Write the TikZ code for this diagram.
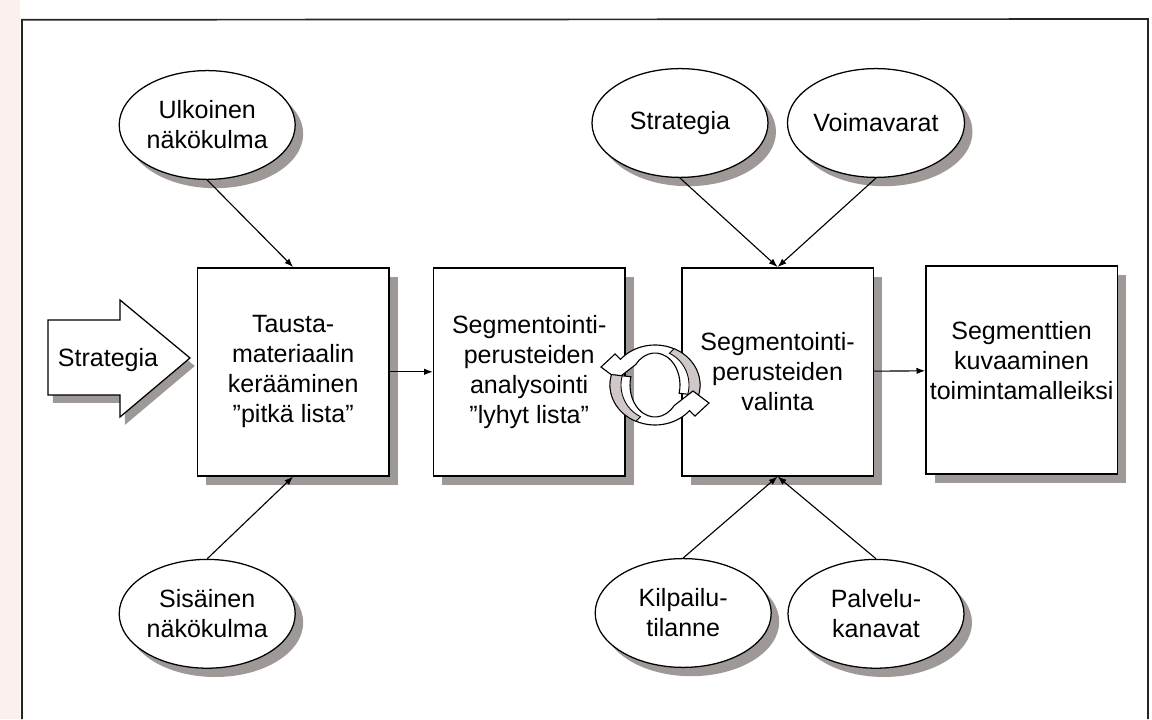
\documentclass[tikz,border=0pt]{standalone}
\usepackage{fontspec}
\setmainfont{Liberation Sans}
\usepackage{tikz}
\usetikzlibrary{arrows.meta,positioning,shapes,shadows,calc}
\definecolor{shadowgray}{RGB}{158,152,150}
\definecolor{ringgray}{RGB}{208,200,198}
\definecolor{scanpink}{RGB}{250,240,237}

\begin{document}
\begin{tikzpicture}[
    stage/.style={draw,line width=1pt,fill=white,drop shadow={shadow xshift=0.22cm,shadow yshift=-0.22cm,fill=shadowgray,opacity=1},font=\fontsize{17.8}{21.3}\selectfont, align=center, minimum width=4.78cm, minimum height=5.2cm, inner sep=0pt},
    factor/.style={draw,ellipse,line width=0.9pt,fill=white,drop shadow={shadow xshift=0.2cm,shadow yshift=-0.22cm,fill=shadowgray,opacity=1},font=\fontsize{17.8}{21.3}\selectfont, align=center, minimum width=4.4cm, minimum height=2.72cm, inner sep=0pt},
    link/.style={line width=0.8pt,-{Latex[length=2.2mm,width=1.6mm]}}
    ]
    %cadre
\useasboundingbox (0,0) rectangle (28.8,17.975);
\fill[scanpink] (0,0) rectangle (0.5,17.975);
\draw[line width=1.2pt,black!85] (0.55,0) -- (0.55,17.48) -- (28.7,17.5) -- (28.7,0);

    %strategia (block arrow)
\draw[line width=0.9pt,fill=white,drop shadow={shadow xshift=0.12cm,shadow yshift=-0.2cm,fill=shadowgray,opacity=1}]
    (1.2,9.975) -- (3.0,9.975) -- (3.0,10.475) -- (4.75,9.025) -- (3.0,7.55) -- (3.0,8.1) -- (1.2,8.1) -- cycle;
\node[font=\fontsize{17.8}{21.3}\selectfont] (strategiain) at (2.7,8.98) {Strategia};

    %boxes
\node[stage] (tausta)   at (7.33,8.68)  {Tausta-\\materiaalin\\kerääminen\\”pitkä lista”};
\node[stage] (analyysi) at (13.23,8.68) {Segmentointi-\\perusteiden\\analysointi\\”lyhyt lista”};
\node[stage] (valinta)  at (19.44,8.68) {Segmentointi-\\perusteiden\\valinta};
\node[stage] (kuvaus)   at (25.54,8.72) {Segmenttien\\kuvaaminen\\toimintamalleiksi\\[-0.25cm]};

    %ellipses
\node[factor] (ulkoinen)   at (5.18,14.85) {Ulkoinen\\näkökulma};
\node[factor] (sisainen)   at (5.18,2.63)  {Sisäinen\\näkökulma};
\node[factor] (strategia)  at (17.0,14.9)  {Strategia};
\node[factor] (voimavarat) at (21.9,14.9)  {Voimavarat};
\node[factor] (kilpailu)   at (17.08,2.65) {Kilpailu-\\tilanne};
\node[factor] (palvelu)    at (21.9,2.63)  {Palvelu-\\kanavat};

    %connectors
\path (ulkoinen.south) edge [link] (tausta.north);
\path (sisainen.north) edge [link] (tausta.south);
\path (tausta) edge [link] (analyysi);
\path (strategia.south) edge [link] (valinta.north);
\path (voimavarat.south) edge [link] (valinta.north);
\path (kilpailu.north) edge [link] (valinta.south);
\path (palvelu.north) edge [link] (valinta.south);
\path (valinta) edge [link] (kuvaus);

    %cycle between analysis and choice
\begin{scope}[shift={(16.375,8.35)},x=0.025cm,y=0.025cm]
  \foreach \r in {0,180}{
    \begin{scope}[rotate=\r]
    \draw[line width=0.8pt,fill=white] (-15:45 and 40) arc[start angle=-15,end angle=140,x radius=45,y radius=40]
        -- (-40,31) -- (-54,18) -- (-38,6) -- (140:25 and 32) arc[start angle=140,end angle=-15,x radius=25,y radius=32] -- cycle;
    \filldraw[line width=0.6pt,fill=ringgray] (-15:45 and 40) arc[start angle=-15,end angle=65,x radius=45,y radius=40]
        -- (65:34 and 35) arc[start angle=65,end angle=-15,x radius=34,y radius=35] -- cycle;
    \end{scope}
  }
\end{scope}
\end{tikzpicture}
\end{document}
